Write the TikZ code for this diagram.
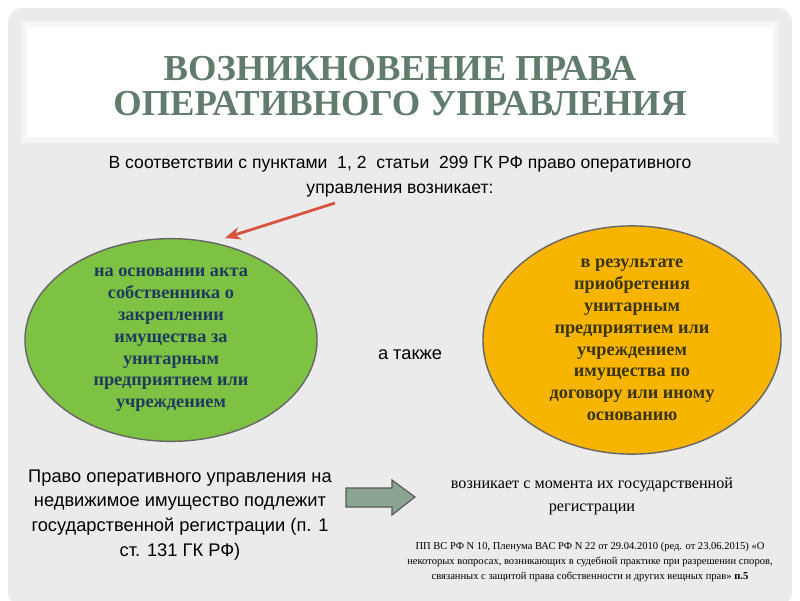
\documentclass[tikz,border=0pt]{standalone}
\usepackage{fontspec}
\setmainfont{Liberation Serif}
\newfontfamily\arialfont{Liberation Sans}
\usetikzlibrary{shapes.geometric,shapes.arrows,arrows.meta}
\definecolor{panelgray}{HTML}{EBEBEB}
\definecolor{titlegreen}{HTML}{617B6C}
\definecolor{ovalgreen}{HTML}{7DC242}
\definecolor{ovalorange}{HTML}{F7B500}
\definecolor{navytext}{HTML}{1F3A5F}
\definecolor{browntext}{HTML}{3B3415}
\definecolor{arrowred}{HTML}{D9533F}
\definecolor{blockgreen}{HTML}{8BA391}
\begin{document}
\begin{tikzpicture}[x=0.025cm, y=-0.025cm]
        % Stijlen
        \tikzstyle{oval} = [ellipse, draw=black!60, line width=1pt, inner sep=0pt, align=center, font=\bfseries\fontsize{13}{15.5}\selectfont]
        \tikzstyle{bodytext} = [align=center, font=\arialfont\fontsize{12.5}{18}\selectfont]

        % Achtergrond
        \useasboundingbox (0,0) rectangle (800,600);
        \fill[white] (0,0) rectangle (800,600);
        \fill[panelgray, rounded corners=10] (8,8) rectangle (792,606);
        \draw[white!96!black, line width=4pt, fill=white] (24,24) rectangle (776,140);

        % Knopen plaatsen
        \node (title) [align=center, text=titlegreen, font=\bfseries\fontsize{26}{25}\selectfont] at (400,86) {ВОЗНИКНОВЕНИЕ ПРАВА\\ОПЕРАТИВНОГО УПРАВЛЕНИЯ};
        \node (intro) [bodytext] at (400,177) {В соответствии с пунктами \ 1, 2 \ статьи \ 299 ГК РФ право оперативного\\управления возникает:};
        \node (act) [oval, fill=ovalgreen, text=navytext, minimum width=7.3cm, minimum height=4.5cm] at (171,340) {на основании акта\\собственника о\\закреплении\\имущества за\\унитарным\\предприятием или\\учреждением};
        \node (acquire) [oval, fill=ovalorange, text=browntext, minimum width=7.45cm, minimum height=4.85cm] at (632,340) {в результате\\приобретения\\унитарным\\предприятием или\\учреждением\\имущества по\\договору или иному\\основанию};
        \node (also) [font=\arialfont\fontsize{13}{15}\selectfont] at (410,355) {а также};
        \node (register) [bodytext, font=\arialfont\fontsize{13}{17.7}\selectfont] at (180,515) {Право оперативного управления на\\недвижимое имущество подлежит\\государственной регистрации (п. 1\\ст. 131 ГК РФ)};
        \node (moment) [align=center, font=\fontsize{11.5}{16.5}\selectfont] at (592,496) {возникает с момента их государственной\\регистрации};
        \node (note) [align=center, font=\fontsize{7.5}{10.6}\selectfont] at (590,562) {ПП ВС РФ N 10, Пленума ВАС РФ N 22 от 29.04.2010 (ред. от 23.06.2015) «О\\некоторых вопросах, возникающих в судебной практике при разрешении споров,\\связанных с защитой права собственности и других вещных прав» \textbf{п.5}};
        \coordinate (redstart) at (335,203);
        \coordinate (redend) at (225,238);

        % Blokpijl
        \draw[draw=black!65, line width=0.8pt, fill=blockgreen] (346,488) -- (392,488) -- (392,480) -- (415,497) -- (392,515) -- (392,507) -- (346,507) -- cycle;

        % Pijlen tekenen
        \draw[arrowred, line width=2pt, -{Stealth[length=11pt, width=9pt]}] (redstart) -- (redend);
\end{tikzpicture}
\end{document}
